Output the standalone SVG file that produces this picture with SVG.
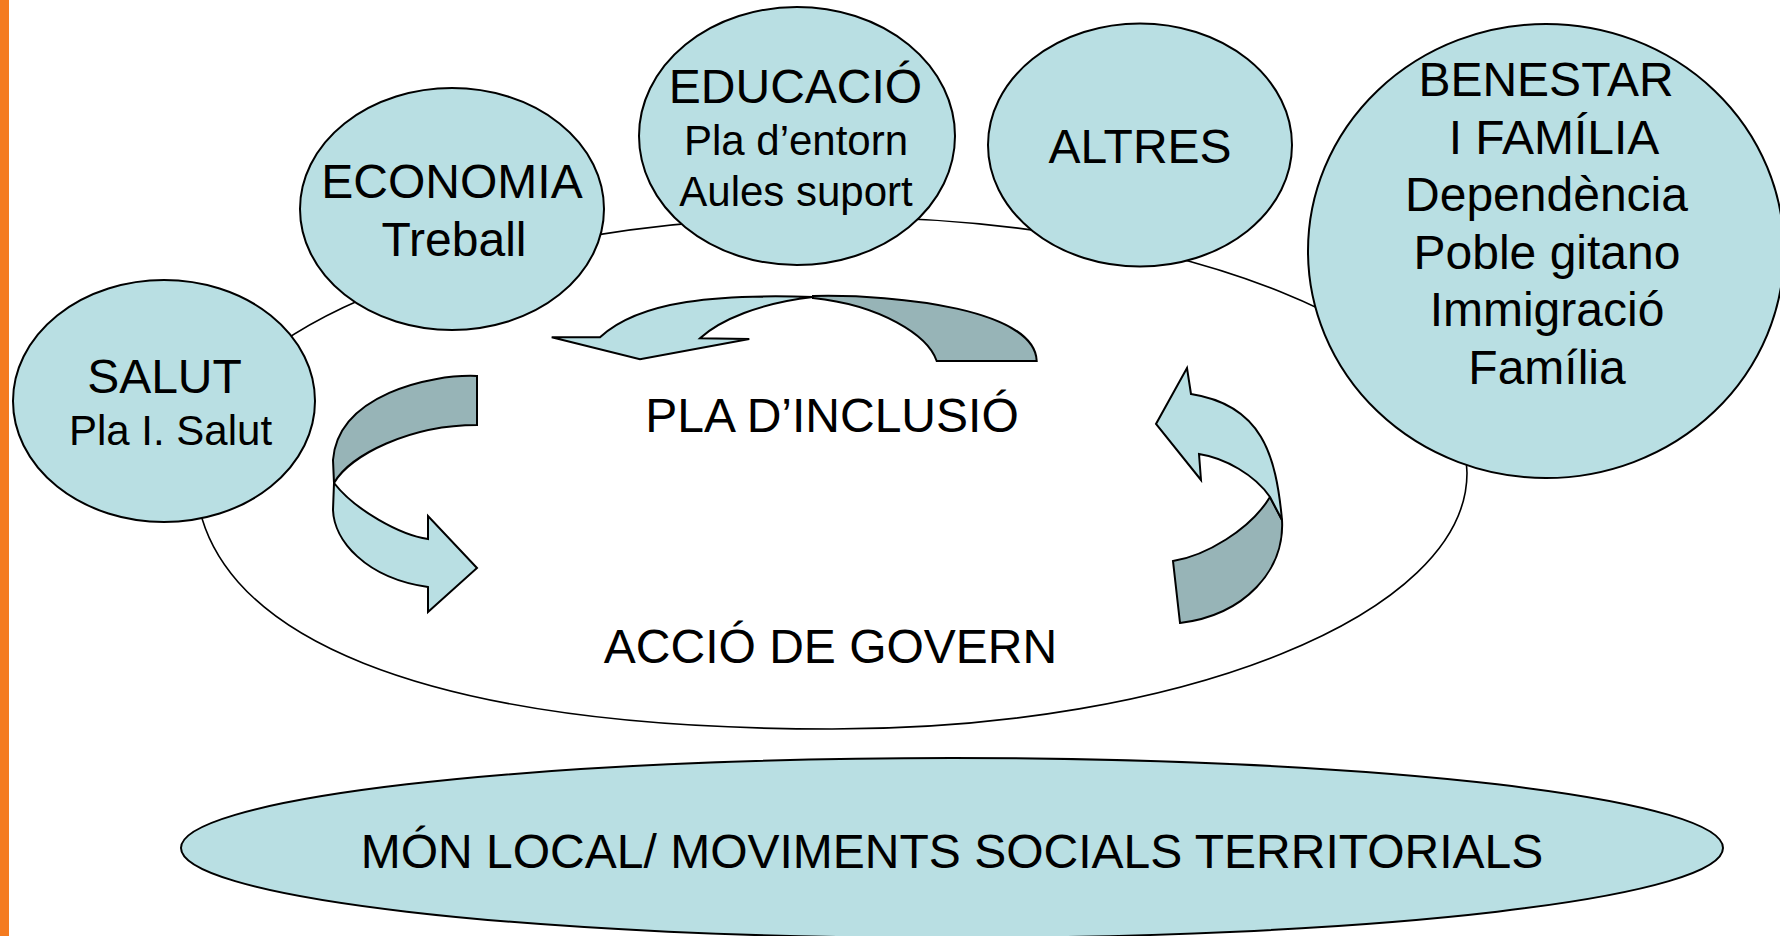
<svg xmlns="http://www.w3.org/2000/svg" width="1780" height="936" viewBox="0 0 1780 936">
<style>
  .node { fill: #B9DFE3; stroke: #000; stroke-width: 2; }
  .ring { fill: none; stroke: #000; stroke-width: 1.6; }
  .light { fill: #B9DFE3; stroke: #000; stroke-width: 2; stroke-linejoin: miter; }
  .dark { fill: #97B4B7; stroke: #000; stroke-width: 2; stroke-linejoin: miter; }
  .t { font-family: "Liberation Sans", Arial, sans-serif; font-size: 48px; fill: #000; text-anchor: middle; }
  .s { font-family: "Liberation Sans", Arial, sans-serif; font-size: 42px; fill: #000; text-anchor: middle; }
</style>
<rect x="0" y="0" width="1780" height="936" fill="#FFFFFF"/>
<rect id="side-bar" x="0" y="0" width="9" height="936" fill="#F47B20"/>

<g id="accio-de-govern">
  <path class="ring" d="M 832,217 C 1182.7,217 1467,331.6 1467,473 C 1467,614.4 1182.7,729 832,729 C 432,729 195,640 195,470 C 195,330 480,217 832,217 Z"/>
  <text class="t" x="830.5" y="663">ACCIÓ DE GOVERN</text>
</g>

<g id="mon-local">
  <ellipse class="node" cx="952" cy="848" rx="771" ry="90"/>
  <text class="t" x="952" y="868">MÓN LOCAL/ MOVIMENTS SOCIALS TERRITORIALS</text>
</g>

<g id="salut">
  <ellipse class="node" cx="164" cy="401" rx="151" ry="121"/>
  <text class="t" x="164.5" y="393">SALUT</text>
  <text class="s" x="170.5" y="445">Pla I. Salut</text>
</g>

<g id="economia">
  <ellipse class="node" cx="452" cy="209" rx="152" ry="121"/>
  <text class="t" x="452" y="198">ECONOMIA</text>
  <text class="t" x="454" y="256">Treball</text>
</g>

<g id="educacio">
  <ellipse class="node" cx="797" cy="136" rx="158" ry="129"/>
  <text class="t" x="795.5" y="102.5">EDUCACIÓ</text>
  <text class="s" x="796" y="154.5">Pla d’entorn</text>
  <text class="s" x="796" y="205.5">Aules suport</text>
</g>

<g id="altres">
  <ellipse class="node" cx="1140" cy="145" rx="152" ry="121.5"/>
  <text class="t" x="1140" y="162.5">ALTRES</text>
</g>

<g id="benestar">
  <ellipse class="node" cx="1546" cy="251" rx="238" ry="227"/>
  <text class="t" x="1546" y="96">BENESTAR</text>
  <text class="t" x="1554" y="153.5">I FAMÍLIA</text>
  <text class="t" x="1546.5" y="211">Dependència</text>
  <text class="t" x="1547" y="268.5">Poble gitano</text>
  <text class="t" x="1547" y="326">Immigració</text>
  <text class="t" x="1547" y="383.5">Família</text>
</g>

<g id="pla-inclusio">
  <text class="t" x="832" y="432">PLA D’INCLUSIÓ</text>
</g>

<g id="connectors">
  <g id="arrow-top">
    <path class="dark" d="M 813,296 C 900,294 1035,310 1036.7,361 L 936.7,361 C 928,335 880,305 813,298 Z"/>
    <path class="light" d="M 600,337.3 L 551.7,337.3 L 640,359.3 L 749.3,339 L 700,338.3 C 720,320 760,303 813,297 C 720,294 640,300 600,337.3 Z"/>
  </g>
  <g id="arrow-left">
    <path class="dark" d="M 477,376 C 430,374 338,395 333,460 L 334,483 C 350,455 410,425 477,425 Z"/>
    <path class="light" d="M 334,483 L 333,510 C 334,540 365,578 428,587 L 428,612 L 477,568 L 428,516 L 428,539 C 400,535 355,510 334,483 Z"/>
  </g>
  <g id="arrow-right">
    <path class="dark" d="M 1270,497 L 1282,520 C 1285,570 1245,615 1180,623 L 1173,561 C 1205,556 1250,530 1270,497 Z"/>
    <path class="light" d="M 1191,394 L 1187,368 L 1156,424 L 1201,480 L 1199,454 C 1225,458 1255,475 1270,497 L 1282,520 C 1276,455 1262,405 1191,394 Z"/>
  </g>
</g>
</svg>
